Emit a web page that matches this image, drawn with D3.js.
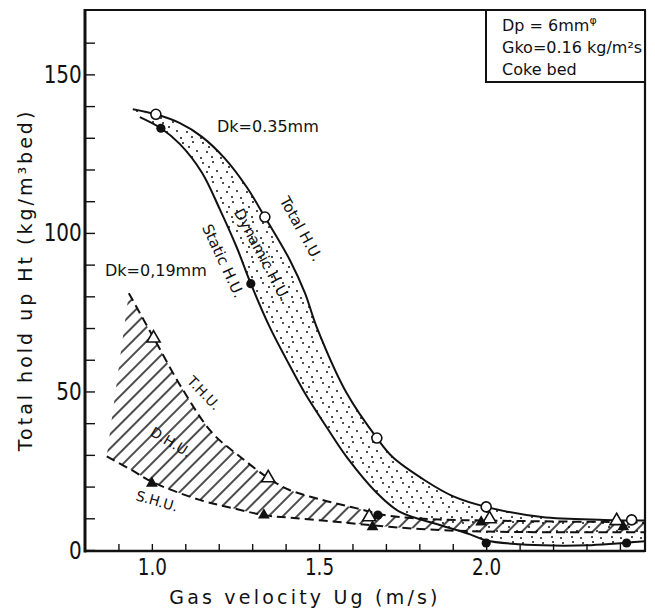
<!DOCTYPE html>
<html>
<head>
<meta charset="utf-8">
<script src="https://cdn.jsdelivr.net/npm/d3@7"></script>
<style>
  html, body { margin: 0; padding: 0; background: #fff; }
  svg { display: block; }
  text { fill: #111; font-family: "DejaVu Sans", sans-serif; }
</style>
</head>
<body>
<svg id="chart" width="655" height="610"></svg>
<script>
// ---- data ----
// Dk = 0.35 mm : measured points
const totalX  = [1.012, 1.338, 1.673, 2.0, 2.435];
const totalY  = [137.4, 105.0, 35.3, 13.6, 9.5];
const staticX = [1.027, 1.296, 1.676, 2.0, 2.42];
const staticY = [133.0, 84.0, 11.0, 2.2, 2.2];
// Dk = 0.19 mm : measured points
const thuX = [1.005, 1.348, 1.65, 2.01, 2.39];
const thuY = [66.8, 22.7, 10.4, 9.8, 9.2];
const shuX = [1.0, 1.335, 1.66, 1.985, 2.41];
const shuY = [21.0, 11.0, 7.3, 8.8, 7.3];

// fitted curves
const totalCurveX  = [0.943, 1.012, 1.084, 1.15, 1.218, 1.284, 1.338, 1.413, 1.458, 1.493, 1.583, 1.673, 1.72, 1.816, 1.9, 2.0, 2.166, 2.354, 2.475];
const totalCurveY  = [139, 137.4, 134.6, 130.3, 123.5, 114.4, 105, 91.4, 81, 70.3, 49.4, 35.3, 29.3, 22, 17, 13.6, 10.4, 9.5, 9.3];
const staticCurveX = [0.964, 1.027, 1.084, 1.15, 1.203, 1.254, 1.296, 1.353, 1.404, 1.458, 1.523, 1.583, 1.673, 1.742, 1.861, 1.95, 2.0, 2.1, 2.2, 2.3, 2.475];
const staticCurveY = [136.5, 133, 128, 119, 107.5, 95.4, 84, 70.2, 59.8, 49.4, 38.7, 29.3, 18, 12, 7.9, 5, 3, 1.8, 1.4, 1.5, 2.8];
const thuCurveX = [0.931, 1.005, 1.09, 1.18, 1.263, 1.348, 1.41, 1.51, 1.61, 1.71, 1.86, 2.0, 2.2, 2.4, 2.475];
const thuCurveY = [81, 67, 51, 37, 29.5, 22.7, 19, 15.8, 13.2, 10.8, 9.6, 9.3, 9.0, 8.8, 8.6];
const shuCurveX = [0.865, 0.943, 1.0, 1.143, 1.242, 1.335, 1.41, 1.51, 1.61, 1.71, 1.86, 2.0, 2.2, 2.475];
const shuCurveY = [29.5, 25, 21.5, 15.8, 13.2, 11, 10.2, 9.3, 8.3, 7.3, 6.3, 5.8, 5.6, 5.6];

const xTickValues = [0.9, 1.0, 1.1, 1.2, 1.3, 1.4, 1.5, 1.6, 1.7, 1.8, 1.9, 2.0, 2.1, 2.2, 2.3, 2.4];
const xTickLabels = ["1.0", "1.5", "2.0"];
const yTickValues = [10, 20, 30, 40, 50, 60, 70, 80, 90, 100, 110, 120, 130, 140, 150, 160];
const yTickLabels = [0, 50, 100, 150];

// ---- layout ----
const svg = d3.select("#chart");
const L = 85, R = 645, T = 10, B = 551;
const x = d3.scaleLinear().domain([0.8, 2.475]).range([L, R]);
const y = d3.scaleLinear().domain([0, 170.3]).range([550, T]);

const zip = (xs, ys) => xs.map((v, i) => [v, ys[i]]);
const line = d3.line().x(d => x(d[0])).y(d => y(d[1])).curve(d3.curveCatmullRom.alpha(0.5));

const defs = svg.append("defs");
// stipple pattern for Dynamic H.U.
const dots = defs.append("pattern").attr("id", "dots").attr("patternUnits", "userSpaceOnUse")
  .attr("width", 20).attr("height", 20);
[[3,3],[13,2],[17,11],[7,12],[12,17],[1,18],[9,7]].forEach(p =>
  dots.append("circle").attr("cx", p[0]).attr("cy", p[1]).attr("r", 1).attr("fill", "#111"));
// hatch pattern for D.H.U.
const hatch = defs.append("pattern").attr("id", "hatch").attr("patternUnits", "userSpaceOnUse")
  .attr("width", 10).attr("height", 10).attr("patternTransform", "rotate(-45)");
hatch.append("line").attr("x1", 0).attr("x2", 10).attr("y1", 5).attr("y2", 5)
  .attr("stroke", "#111").attr("stroke-width", 1.5);

defs.append("clipPath").attr("id", "plotclip").append("rect")
  .attr("x", L).attr("y", T).attr("width", R - L).attr("height", B - T);

const totalC = zip(totalCurveX, totalCurveY);
const staticC = zip(staticCurveX, staticCurveY);
const thuC = zip(thuCurveX, thuCurveY);
const shuC = zip(shuCurveX, shuCurveY);

const band = (a, b) => line(a) + line(b.slice().reverse()).replace(/^M/, "L") + "Z";

const plot = svg.append("g").attr("clip-path", "url(#plotclip)");
plot.append("path").attr("d", band(thuC, shuC)).attr("fill", "url(#hatch)");
plot.append("path").attr("d", band(totalC, staticC)).attr("fill", "url(#dots)");

// curves
plot.append("path").attr("d", line(totalC)).attr("fill", "none").attr("stroke", "#111").attr("stroke-width", 2);
plot.append("path").attr("d", line(staticC)).attr("fill", "none").attr("stroke", "#111").attr("stroke-width", 2);
plot.append("path").attr("d", line(thuC)).attr("fill", "none").attr("stroke", "#111").attr("stroke-width", 2).attr("stroke-dasharray", "9,5");
plot.append("path").attr("d", line(shuC)).attr("fill", "none").attr("stroke", "#111").attr("stroke-width", 2).attr("stroke-dasharray", "9,5");

// markers
const g = svg.append("g");
g.selectAll(".tot").data(zip(totalX, totalY)).join("circle")
  .attr("cx", d => x(d[0])).attr("cy", d => y(d[1])).attr("r", 5)
  .attr("fill", "#fff").attr("stroke", "#111").attr("stroke-width", 1.6);
g.selectAll(".sta").data(zip(staticX, staticY)).join("circle")
  .attr("cx", d => x(d[0])).attr("cy", d => y(d[1])).attr("r", 4.6).attr("fill", "#111");
const tri = d3.symbol().type(d3.symbolTriangle);
g.selectAll(".thu").data(zip(thuX, thuY)).join("path")
  .attr("d", tri.size(75)).attr("transform", d => `translate(${x(d[0])},${y(d[1])})`)
  .attr("fill", "#fff").attr("stroke", "#111").attr("stroke-width", 1.6);
g.selectAll(".shu").data(zip(shuX, shuY)).join("path")
  .attr("d", tri.size(60)).attr("transform", d => `translate(${x(d[0])},${y(d[1])})`)
  .attr("fill", "#111");

// axes (ticks inside)
const yAxis = d3.axisLeft(y).tickValues([0].concat(yTickValues)).tickSize(-10).tickPadding(4)
  .tickFormat(d => yTickLabels.includes(d) ? String(d) : "");
const ya = svg.append("g").attr("transform", `translate(${L},0)`).call(yAxis);
ya.select(".domain").remove();
ya.selectAll(".tick line").attr("stroke", "#111").attr("stroke-width", 1.4);
ya.selectAll(".tick text").attr("font-size", 25).attr("fill", "#111")
  .attr("font-family", "DejaVu Sans, sans-serif").attr("transform", "scale(0.8,1)");

const xAxis = d3.axisBottom(x).tickValues(xTickValues).tickSize(-7).tickPadding(8)
  .tickFormat(d => { const s = d.toFixed(1); return xTickLabels.includes(s) ? s : ""; });
const xa = svg.append("g").attr("transform", `translate(0,${B})`).call(xAxis);
xa.select(".domain").remove();
xa.selectAll(".tick line").attr("stroke", "#111").attr("stroke-width", 1.4);
xa.selectAll(".tick text").attr("font-size", 23).attr("fill", "#111")
  .attr("font-family", "DejaVu Sans, sans-serif").attr("transform", "scale(0.8,1)");

// frame
svg.append("line").attr("x1", L).attr("x2", L).attr("y1", T - 1).attr("y2", B + 1.5).attr("stroke", "#111").attr("stroke-width", 3);
svg.append("line").attr("x1", L).attr("x2", R).attr("y1", B).attr("y2", B).attr("stroke", "#111").attr("stroke-width", 2.5);
svg.append("line").attr("x1", L).attr("x2", R).attr("y1", T).attr("y2", T).attr("stroke", "#111").attr("stroke-width", 2);
svg.append("line").attr("x1", R).attr("x2", R).attr("y1", T).attr("y2", B + 1).attr("stroke", "#111").attr("stroke-width", 2.2);

// info box
svg.append("rect").attr("x", 486).attr("y", T).attr("width", R - 486).attr("height", 72)
  .attr("fill", "#fff").attr("stroke", "#111").attr("stroke-width", 2);
const info = svg.append("text").attr("font-size", 16);
const l1 = info.append("tspan").attr("x", 502).attr("y", 31);
l1.append("tspan").text("Dp = 6mm");
l1.append("tspan").attr("dy", -7).attr("font-size", 11).text("φ");
info.append("tspan").attr("x", 502).attr("y", 53).text("Gko=0.16 kg/m²s");
info.append("tspan").attr("x", 502).attr("y", 75).text("Coke bed");

// annotations
svg.append("text").attr("x", 217).attr("y", 132).attr("font-size", 16).text("Dk=0.35mm");
svg.append("text").attr("x", 105).attr("y", 276).attr("font-size", 16).text("Dk=0,19mm");

const rotLabel = (txt, cx, cy, ang, size) =>
  svg.append("text").attr("transform", `translate(${cx},${cy}) rotate(${ang})`)
    .attr("text-anchor", "middle").attr("dominant-baseline", "central").attr("font-size", size).text(txt);
rotLabel("Total H.U.", 301, 229, 61, 15);
rotLabel("Dynamic H.U.", 262, 255, 62, 15);
rotLabel("Static H.U.", 223, 261, 65, 15);
rotLabel("T.H.U.", 204, 393, 46, 14);
rotLabel("D.H.U.", 171, 442, 31, 14);
rotLabel("S.H.U.", 157, 501, 16, 14);

// axis titles
svg.append("text").attr("x", 305).attr("y", 604).attr("text-anchor", "middle")
  .attr("font-size", 19).attr("letter-spacing", 3.2).text("Gas velocity  Ug (m/s)");
svg.append("text").attr("transform", "translate(32,280) rotate(-90)").attr("text-anchor", "middle")
  .attr("font-size", 19).attr("letter-spacing", 3).text("Total hold up  Ht (kg/m³bed)");
</script>
</body>
</html>
